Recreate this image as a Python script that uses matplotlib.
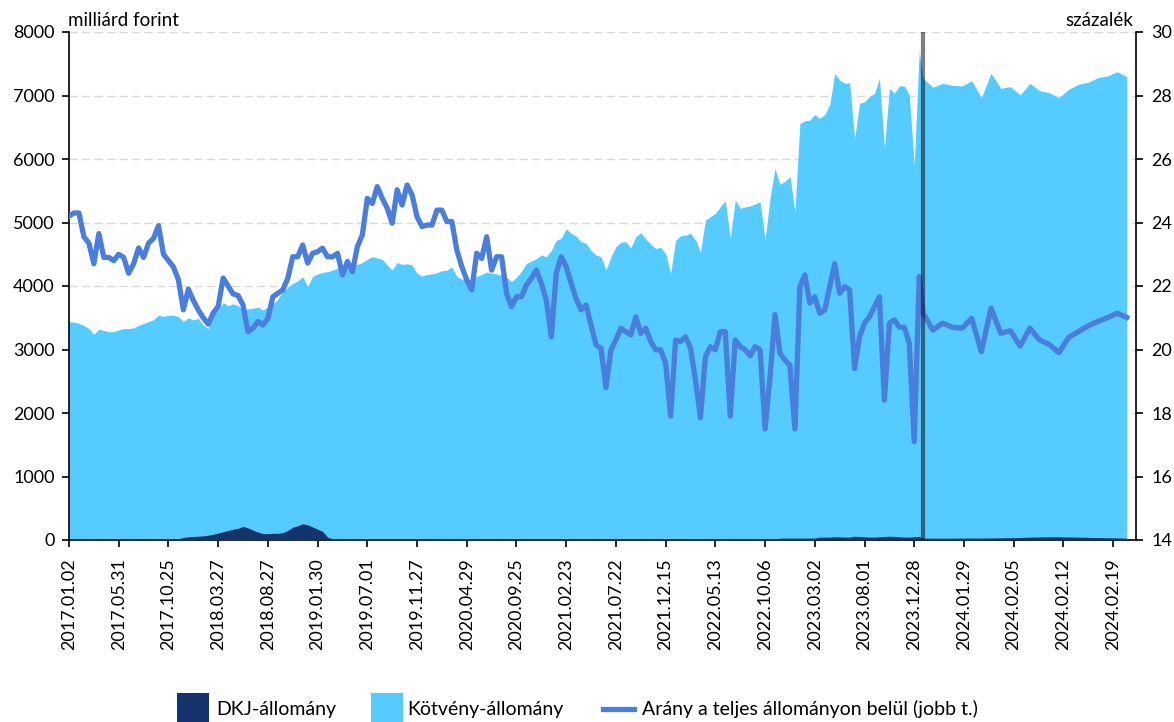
import numpy as np
import matplotlib
matplotlib.use("Agg")
import matplotlib.pyplot as plt
from matplotlib.patches import Rectangle

plt.rcParams["font.family"] = ["Lato", "DejaVu Sans"]

# ---- data ----
tick_labels = ["2017.01.02", "2017.05.31", "2017.10.25", "2018.03.27", "2018.08.27",
               "2019.01.30", "2019.07.01", "2019.11.27", "2020.04.29", "2020.09.25",
               "2021.02.23", "2021.07.22", "2021.12.15", "2022.05.13", "2022.10.06",
               "2023.03.02", "2023.08.01", "2023.12.28", "2024.01.29", "2024.02.05",
               "2024.02.12", "2024.02.19"]

# 2017-2023: one value per 1/10 label interval (milliard HUF)
kotveny_hist = [3440, 3430, 3410, 3380, 3330, 3240, 3320, 3300, 3280, 3280,
                3310, 3330, 3330, 3340, 3380, 3410, 3440, 3470, 3540, 3520,
                3540, 3540, 3517, 3440, 3500, 3465, 3490, 3386, 3330, 3570,
                3620, 3740, 3690, 3720, 3690, 3630, 3640, 3650, 3670, 3620,
                3674, 3720, 3790, 3920, 3980, 4040, 4080, 4147, 3989, 4150,
                4190, 4215, 4226, 4250, 4278, 4250, 4278, 4331, 4340, 4370,
                4420, 4462, 4440, 4420, 4331, 4252, 4370, 4340, 4350, 4331,
                4200, 4160, 4180, 4190, 4210, 4240, 4250, 4300, 4150, 4110,
                4094, 4110, 4150, 4180, 4220, 4200, 4190, 4170, 4140, 4068,
                4140, 4230, 4357, 4390, 4430, 4490, 4460, 4560, 4720, 4751,
                4900, 4830, 4785, 4698, 4672, 4560, 4488, 4462, 4250, 4460,
                4619, 4690, 4698, 4600, 4777, 4840, 4740, 4660, 4590, 4610,
                4510, 4200, 4720, 4790, 4800, 4829, 4724, 4540, 5039, 5092,
                5145, 5250, 5340, 4750, 5354, 5223, 5245, 5260, 5290, 5328,
                4724, 5390, 5850, 5600, 5650, 5722, 5170, 6560, 6600, 6614,
                6700, 6640, 6700, 6850, 7349, 7244, 7192, 7200, 6325, 6880,
                6900, 6982, 7034, 7270, 6170, 7113, 7034, 7150, 7150, 7008,
                5900, 7700]

dkj_hist = [5, 5, 5, 5, 5, 5, 5, 5, 5, 5,
            5, 5, 10, 5, 5, 5, 5, 5, 5, 5,
            5, 5, 20, 40, 50, 55, 60, 65, 75, 90,
            110, 130, 150, 170, 184, 215, 190, 155, 125, 100,
            100, 105, 105, 115, 150, 200, 225, 255, 240, 205,
            170, 135, 45, 20, 15, 12, 12, 10, 10, 10,
            5, 5, 5, 5, 5, 5, 5, 5, 5, 5,
            5, 5, 5, 5, 5, 15, 15, 15, 15, 15,
            15, 5, 5, 5, 5, 5, 5, 5, 5, 5,
            5, 5, 5, 5, 5, 5, 5, 5, 5, 5,
            5, 5, 5, 5, 5, 5, 5, 5, 5, 5,
            5, 5, 5, 5, 5, 5, 5, 5, 5, 5,
            5, 5, 5, 5, 5, 10, 10, 10, 10, 10,
            10, 10, 15, 15, 15, 15, 15, 15, 15, 15,
            15, 15, 15, 30, 30, 30, 30, 30, 30, 30,
            30, 45, 45, 45, 50, 50, 45, 45, 60, 55,
            50, 45, 45, 50, 55, 60, 55, 50, 45, 45,
            50, 55]

# percent, right axis
arany_hist = [24.2, 24.3, 24.3, 23.55, 23.35, 22.7, 23.65, 22.9, 22.9, 22.8,
              23.0, 22.9, 22.4, 22.7, 23.2, 22.9, 23.35, 23.5, 23.9, 23.0,
              22.8, 22.6, 22.2, 21.25, 21.9, 21.55, 21.25, 21.0, 20.8, 21.15,
              21.35, 22.25, 22.0, 21.75, 21.7, 21.4, 20.56, 20.67, 20.88, 20.77,
              20.98, 21.66, 21.77, 21.88, 22.24, 22.92, 22.92, 23.29, 22.72, 23.03,
              23.08, 23.19, 22.92, 22.92, 23.03, 22.35, 22.77, 22.45, 23.24, 23.61,
              24.76, 24.6, 25.13, 24.76, 24.45, 23.98, 25.03, 24.55, 25.18, 24.87,
              24.18, 23.87, 23.92, 23.92, 24.39, 24.39, 24.03, 24.03, 23.13, 22.61,
              22.19, 21.88, 23.03, 22.87, 23.55, 22.5, 22.92, 22.92, 21.77, 21.35,
              21.66, 21.66, 22.03, 22.24, 22.5, 22.08, 21.56, 20.4, 22.4, 22.92,
              22.61, 22.08, 21.6, 21.25, 21.4, 20.77, 20.14, 20.04, 18.8, 19.99,
              20.3, 20.67, 20.56, 20.46, 21.03, 20.51, 20.67, 20.25, 19.99, 19.99,
              19.57, 17.9, 20.3, 20.25, 20.4, 20.04, 19.04, 17.85, 19.77, 20.09,
              19.99, 20.56, 20.56, 17.9, 20.3, 20.09, 19.99, 19.8, 20.09, 19.99,
              17.5, 19.14, 21.1, 19.88, 19.67, 19.5, 17.5, 21.98, 22.35, 21.46,
              21.66, 21.14, 21.25, 21.98, 22.7, 21.77, 21.98, 21.88, 19.4, 20.4,
              20.83, 21.03, 21.35, 21.66, 18.4, 20.83, 20.93, 20.7, 20.7, 20.2,
              17.1, 22.3]

# 2024: one value per 1/5 label interval
kotveny_2024 = [7271, 7129, 7192, 7161, 7150, 7233, 6965, 7350, 7113, 7139, 7008,
                7192, 7076, 7044, 6965, 7098, 7176, 7208, 7280, 7307, 7375, 7296]
dkj_2024 = [30, 28, 28, 28, 30, 30, 30, 32, 34, 36, 40,
            45, 48, 50, 50, 48, 45, 42, 38, 35, 32, 28]
arany_2024 = [21.14, 20.61, 20.83, 20.70, 20.67, 20.98, 19.93, 21.30, 20.51, 20.59, 20.11,
              20.67, 20.30, 20.16, 19.90, 20.38, 20.56, 20.74, 20.88, 21.00, 21.14, 21.01]

LIGHT = "#55CBFF"
NAVY = "#15336C"
LINE = "#4A7EDD"
GRID = "#D9D9D9"

# category positions (label interval = 1)
x = np.concatenate([np.arange(len(kotveny_hist)) * 0.1,
                    17.18 + np.arange(len(kotveny_2024)) * 0.195])
kot = np.array(kotveny_hist + kotveny_2024)
dkj = np.array(dkj_hist + dkj_2024)
arany = np.array(arany_hist + arany_2024)
BREAK = 17.18

fig = plt.figure(figsize=(11.74, 7.22), dpi=100)
ax = fig.add_axes([68.5 / 1174, 182 / 722, 1067.5 / 1174, 508 / 722])

ax.fill_between(x, 0, kot, color=LIGHT, lw=0, zorder=2)
ax.fill_between(x, 0, dkj, color=NAVY, lw=0, zorder=3)

ax.set_xlim(-0.01, 21.46)
ax.set_ylim(0, 8000)
ax.set_yticks(range(0, 8001, 1000))
ax.set_xticks(range(len(tick_labels)))
ax.set_xticklabels(tick_labels, rotation=90)
ax.yaxis.grid(True, color=GRID, ls=(0, (6, 3)), lw=1)
ax.set_axisbelow(True)
for s in ("top", "right"):
    ax.spines[s].set_visible(False)
for s in ("left", "bottom"):
    ax.spines[s].set_linewidth(1.2)
ax.tick_params(axis="y", direction="out", length=5, width=1.2, pad=5, labelsize=13)
ax.tick_params(axis="x", direction="out", length=5, width=1.2, pad=8, labelsize=13)

ax2 = ax.twinx()
ax2.plot(x, arany, color=LINE, lw=3.8, zorder=3)
ax2.axvline(BREAK, color="black", alpha=0.5, lw=3, zorder=5)
ax2.set_ylim(14, 30)
ax2.set_yticks(range(14, 31, 2))
for s in ("top", "left", "bottom"):
    ax2.spines[s].set_visible(False)
ax2.spines["right"].set_linewidth(1.2)
ax2.tick_params(axis="y", direction="out", length=5, width=1.2, pad=6, labelsize=13)

fig.text(68 / 1174, 1 - 20 / 722, "milliárd forint", ha="left", va="center", fontsize=13.5)
fig.text(1133 / 1174, 1 - 20 / 722, "százalék", ha="right", va="center", fontsize=13.5)

# legend in pixel coordinates
lg = fig.add_axes([0, 0, 1, 1], zorder=-1)
lg.set_xlim(0, 1174); lg.set_ylim(722, 0); lg.axis("off")
lg.add_patch(Rectangle((177, 693), 32, 30, color=NAVY, lw=0))
lg.text(216, 709, "DKJ-állomány", ha="left", va="center", fontsize=14)
lg.add_patch(Rectangle((371, 693), 32, 30, color=LIGHT, lw=0))
lg.text(407, 709, "Kötvény-állomány", ha="left", va="center", fontsize=14)
lg.plot([603, 634], [709, 709], color=LINE, lw=3.8)
lg.text(642, 709, "Arány a teljes állományon belül (jobb t.)", ha="left", va="center", fontsize=14)

fig.savefig("out.png", dpi=100)
